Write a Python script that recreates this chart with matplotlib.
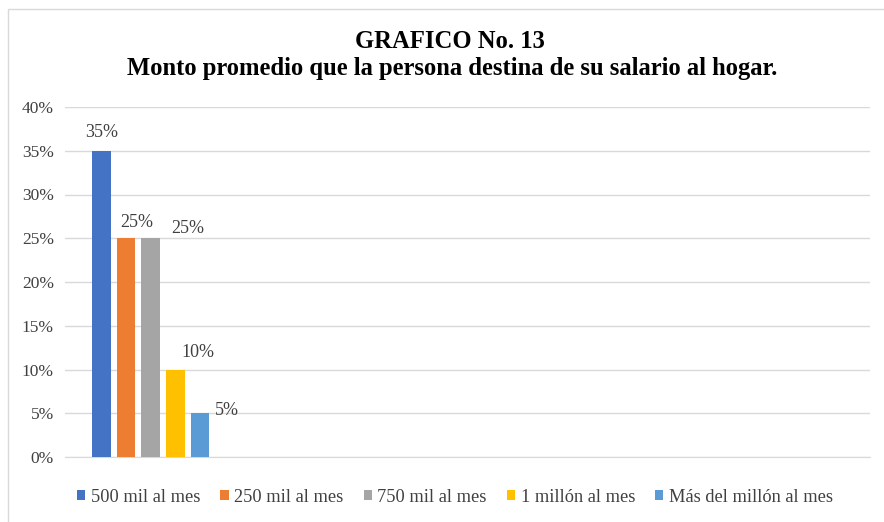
import matplotlib
matplotlib.use("Agg")
import matplotlib.pyplot as plt
from matplotlib.patches import Rectangle
from matplotlib.ticker import FuncFormatter

plt.rcParams['font.family'] = ['Liberation Serif', 'DejaVu Serif']

categories = ["500 mil al mes", "250 mil al mes", "750 mil al mes", "1 millón al mes", "Más del millón al mes"]
values = [35, 25, 25, 10, 5]
colors = ["#4472C4", "#ED7D31", "#A5A5A5", "#FFC000", "#5B9BD5"]
yticks = [0, 5, 10, 15, 20, 25, 30, 35, 40]
# label offsets (points) of label centre relative to bar top centre
label_offsets = [(0, 12.8), (7.9, 11.5), (26.6, 7.1), (16.6, 12.5), (19.4, 2.1)]

W, H = 884, 522
fig = plt.figure(figsize=(W / 100, H / 100), dpi=100)

# outer frame
fig.patches.append(Rectangle((8 / W, -0.1), 1.2, (H - 9) / H + 0.1, transform=fig.transFigure,
                             fill=False, edgecolor="#d9d9d9", linewidth=1.0))

ax = fig.add_axes([65 / W, (H - 457) / H, (870 - 65) / W, (457 - 107) / H])
step = 24.6
width = 18.5 / step
xs = list(range(len(values)))
bars = ax.bar(xs, values, width=width, color=colors, label=categories, zorder=3)
x0 = -(101.5 - 65) / step
ax.set_xlim(x0, x0 + (870 - 65) / step)
ax.set_ylim(0, 40)
ax.set_yticks(yticks)
ax.yaxis.set_major_formatter(FuncFormatter(lambda v, p: f"{int(v)}%"))
ax.set_xticks([])
ax.grid(axis="y", color="#d9d9d9", linewidth=1.0, zorder=0)
for s in ["top", "right", "left"]:
    ax.spines[s].set_visible(False)
ax.spines["bottom"].set_color("#d9d9d9")
ax.tick_params(axis="y", length=0, pad=8, labelsize=12.5, labelcolor="#404040")

for x, v, (dx, dy) in zip(xs, values, label_offsets):
    ax.annotate(f"{v}%", xy=(x, v), xytext=(dx, dy), textcoords="offset points",
                ha="center", va="center", fontsize=13, color="#404040", annotation_clip=False)

fig.text(450 / W, 1 - 41 / H, "GRAFICO No. 13", ha="center", va="center",
         fontsize=17.7, fontweight="bold", color="black")
fig.text(452 / W, 1 - 69 / H, "Monto promedio que la persona destina de su salario al hogar.",
         ha="center", va="center", fontsize=17.7, fontweight="bold", color="black")

leg = fig.legend(handles=bars, labels=categories, loc="center", bbox_to_anchor=(455 / W, 1 - 497 / H),
                 ncol=5, frameon=False, fontsize=13.2, handlelength=0.45, handleheight=0.45,
                 handletextpad=0.3, columnspacing=1.1, labelcolor="#404040")

fig.savefig("out.png", dpi=100)
